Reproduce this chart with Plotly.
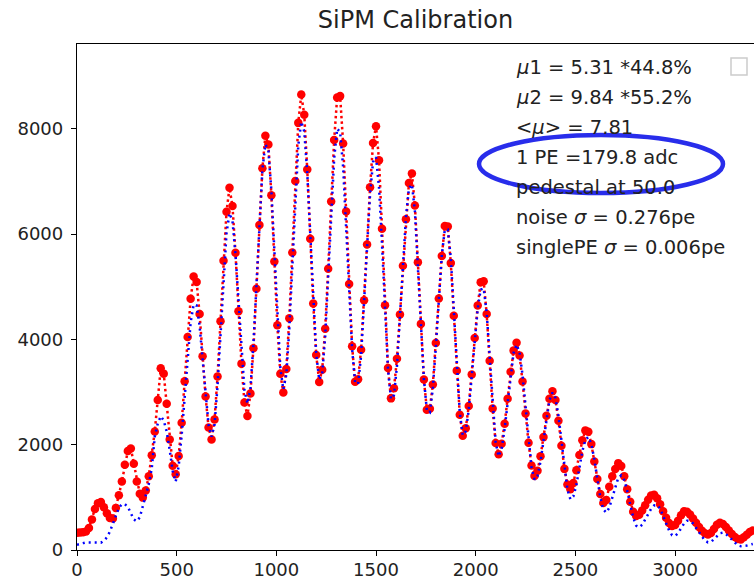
import plotly.graph_objects as go

# ---------------- data ----------------
BIN_WIDTH = 15  # adc per histogram bin

# measured histogram (red), one value per bin starting at 0 adc
counts = [
    330, 332, 338, 350, 420, 580, 780, 890, 910, 810, 700, 610, 600, 800, 1040, 1300, 1620, 1880, 1930, 1640,
    1300, 1070, 995, 1130, 1400, 1800, 2250, 2850, 3450, 3350, 2780, 2100, 1600, 1440, 1785, 2417, 3203, 4045, 4773, 5195,
    5092, 4481, 3682, 2914, 2328, 2100, 2481, 3294, 4346, 5493, 6426, 6880, 6533, 5644, 4537, 3540, 2802, 2545, 2973, 3834,
    4964, 6175, 7251, 7870, 7702, 6739, 5480, 4270, 3346, 2990, 3439, 4402, 5649, 7008, 8113, 8650, 8268, 7227, 5913, 4681,
    3706, 3190, 3425, 4203, 5343, 6621, 7788, 8594, 8621, 7721, 6428, 5051, 3871, 3196, 3245, 3803, 4742, 5803, 6890, 7729,
    8050, 7401, 6103, 4649, 3455, 2880, 3073, 3633, 4473, 5399, 6281, 6970, 7150, 6544, 5466, 4295, 3240, 2666, 2684, 3143,
    3932, 4777, 5584, 6153, 6143, 5449, 4448, 3407, 2569, 2170, 2311, 2733, 3335, 4027, 4643, 5086, 5103, 4482, 3593, 2687,
    2032, 1820, 2020, 2397, 2875, 3384, 3787, 3935, 3694, 3200, 2593, 2035, 1605, 1405, 1507, 1781, 2144, 2548, 2871, 3016,
    2848, 2456, 1980, 1541, 1242, 1155, 1274, 1514, 1805, 2084, 2272, 2246, 2011, 1683, 1349, 1064, 892, 950, 1200, 1400,
    1540, 1650, 1595, 1402, 1154, 916, 728, 645, 671, 749, 850, 955, 1035, 1048, 982, 867, 735, 612, 512, 458,
    473, 556, 660, 734, 725, 673, 600, 516, 436, 365, 316, 295, 325, 398, 479, 516, 492, 437, 370, 304,
    245, 209, 200, 240, 290, 340, 370,
]

# fitted model (blue dotted), same bins
fit = [
    100, 110, 130, 145, 145, 140, 136, 136, 140, 175, 240, 350, 490, 660, 800, 870, 870, 820, 690, 580,
    545, 620, 830, 1020, 1250, 1550, 2150, 2400, 2540, 2460, 2250, 1900, 1500, 1297, 1591, 2176, 2933, 3700, 4323, 4659,
    4644, 4256, 3616, 2915, 2374, 2152, 2384, 3117, 4135, 5196, 6018, 6397, 6247, 5619, 4693, 3746, 3034, 2780, 3078, 3911,
    5062, 6252, 7224, 7705, 7585, 6825, 5653, 4410, 3449, 3050, 3331, 4208, 5427, 6697, 7681, 8135, 7952, 7160, 6007, 4784,
    3730, 3235, 3346, 4049, 5164, 6401, 7434, 8002, 7936, 7271, 6150, 4900, 3814, 3184, 3152, 3685, 4625, 5736, 6750, 7372,
    7463, 6884, 5805, 4525, 3437, 2867, 2942, 3494, 4395, 5415, 6316, 6868, 6945, 6436, 5464, 4297, 3258, 2648, 2614, 3063,
    3860, 4793, 5604, 6078, 6086, 5544, 4594, 3509, 2619, 2180, 2254, 2656, 3280, 3984, 4583, 4947, 4968, 4509, 3676, 2749,
    2045, 1780, 1920, 2299, 2823, 3349, 3745, 3900, 3759, 3324, 2705, 2062, 1566, 1338, 1403, 1679, 2087, 2509, 2846, 2990,
    2889, 2554, 2060, 1549, 1151, 962, 1020, 1234, 1555, 1876, 2091, 2147, 2013, 1724, 1353, 1004, 769, 710, 804, 989,
    1206, 1370, 1419, 1329, 1123, 863, 618, 462, 431, 479, 572, 682, 783, 847, 855, 790, 663, 509, 370, 280,
    266, 319, 411, 503, 557, 551, 504, 426, 336, 247, 179, 145, 153, 204, 270, 319, 328, 303, 253, 191,
    131, 87, 72, 75, 85, 100, 115,
]

adc = [BIN_WIDTH * i for i in range(len(counts))]

x_ticks = [0, 500, 1000, 1500, 2000, 2500, 3000]
y_ticks = [0, 2000, 4000, 6000, 8000]

title_text = "SiPM Calibration"
info_lines = [
    "<i>μ</i>1 = 5.31 *44.8%",
    "<i>μ</i>2 = 9.84 *55.2%",
    "&lt;<i>μ</i>&gt; = 7.81",
    "1 PE =179.8 adc",
    "pedestal at 50.0",
    "noise <i>σ</i> = 0.276pe",
    "singlePE <i>σ</i> = 0.006pe",
]

# ---------------- layout geometry (pixels) ----------------
W, H = 754, 584
ML, MR, MT, MB = 77, 0, 44, 34
PW, PH = W - ML - MR, H - MT - MB


def px_x(p):
    return (p - ML) / PW


def px_y(p):
    return (H - MB - p) / PH


FONT = "DejaVu Sans"
TXT = "#222222"

fig = go.Figure()
fig.add_trace(go.Scatter(
    x=adc, y=counts, mode="lines+markers",
    line=dict(color="red", width=2.5, dash="2.5px,3px"),
    marker=dict(color="red", size=8.5, line=dict(width=0)),
    showlegend=False, hoverinfo="skip",
))
fig.add_trace(go.Scatter(
    x=adc, y=fit, mode="lines",
    line=dict(color="blue", width=2.5, dash="2px,4px"),
    showlegend=False, hoverinfo="skip",
))

axis_common = dict(
    showline=True, linecolor="black", linewidth=1.3,
    ticks="outside", ticklen=5, tickwidth=1.3, tickcolor="black",
    tickfont=dict(family=FONT, size=18, color=TXT),
    showgrid=False, zeroline=False,
)

fig.update_layout(
    width=W, height=H,
    margin=dict(l=ML, r=MR, t=MT, b=MB, pad=0),
    paper_bgcolor="white", plot_bgcolor="white",
    title=dict(text=title_text, x=0.5, xref="paper", xanchor="center",
               y=1 - 20 / H, yref="container", yanchor="middle",
               font=dict(family=FONT, size=24, color=TXT)),
    xaxis=dict(range=[0, 3396], tickvals=x_ticks, mirror=True,
               ticklabelstandoff=-2, **axis_common),
    yaxis=dict(range=[0, 9611], tickvals=y_ticks, ticklabelstandoff=4, **axis_common),
)

annotations = []
for i, line in enumerate(info_lines):
    annotations.append(dict(
        text=line, xref="paper", yref="paper",
        x=px_x(514), y=px_y(67 + 29.9 * i + 1),
        xanchor="left", yanchor="middle", showarrow=False,
        font=dict(family=FONT, size=19.5, color=TXT),
    ))
fig.update_layout(annotations=annotations)

# legend-handle box (clipped legend) and hand-drawn highlight ellipse
fig.add_shape(type="rect", xref="paper", yref="paper",
              x0=px_x(731), x1=px_x(747), y0=px_y(75), y1=px_y(58),
              line=dict(color="#cccccc", width=1.5), fillcolor="white", layer="above")
fig.add_shape(type="circle", xref="paper", yref="paper",
              x0=px_x(479), x1=px_x(723), y0=px_y(193), y1=px_y(135),
              line=dict(color="rgb(40,45,235)", width=4.5), layer="above")

fig.write_html("out.html")
